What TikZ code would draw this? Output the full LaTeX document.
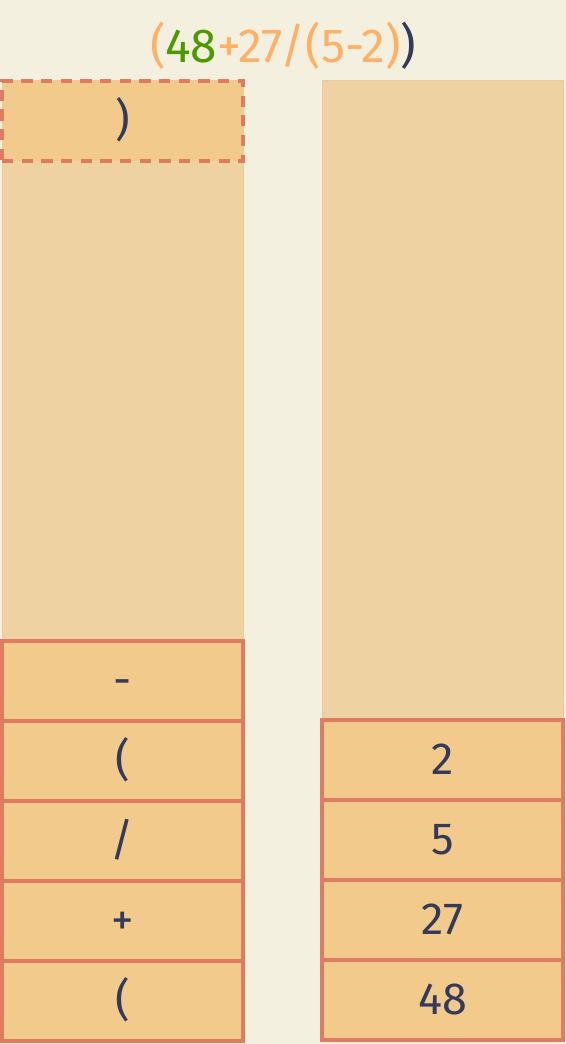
\documentclass[tikz,border=0pt]{standalone}
\usepackage{fontspec}
\usepackage{xcolor}
\usetikzlibrary{positioning}
\setmainfont{Fira Sans}

\definecolor{paper}{HTML}{F4F0DF}
\definecolor{slot}{HTML}{EED2A2}
\definecolor{slotline}{HTML}{F0C8A0}
\definecolor{cellfill}{HTML}{F2CA8C}
\definecolor{cellline}{HTML}{E07B5F}
\definecolor{ink}{HTML}{343A5A}
\definecolor{todo}{HTML}{FFB066}
\definecolor{done}{HTML}{4C9A00}

\begin{document}
\begin{tikzpicture}[node distance=2cm, auto]
    \tikzstyle{column} = [rectangle, draw=slotline, fill=slot, line width=0.6pt, minimum width=6.025cm, minimum height=24.025cm, inner sep=0pt]
    \tikzstyle{cell} = [rectangle, draw=cellline, fill=cellfill, line width=2.8pt, minimum width=6.025cm, minimum height=2cm, inner sep=0pt, text height=0.75cm, text depth=0cm, text=ink, font=\fontsize{32}{34}\selectfont]
    \tikzstyle{incoming} = [cell, dashed, dash pattern=on 8pt off 6pt]

    % background and the two stacks
    \fill[paper] (0,0) rectangle (14.15,26.1);
    \useasboundingbox (0,0) rectangle (14.15,26.1);

    \node[column] (opcol) at (3.0625,12.0875) {};
    \node[column] (numcol) at (11.0625,12.0875) {};

    % expression being read
    \node[font=\fontsize{34}{36}\selectfont] (expr) at (7.075,24.95)
        {\textcolor{todo}{(}\textcolor{done}{48}\textcolor{todo}{+27/(5-2)}\textcolor{ink}{)}};

    % operator stack
    \node[cell] (op1) at (3.0625,1.075) {(};
    \node[cell, above of=op1] (op2) {+};
    \node[cell, above of=op2] (op3) {/};
    \node[cell, above of=op3] (op4) {(};
    \node[cell, above of=op4] (op5) {-};

    % number stack
    \node[cell] (num1) at (11.0625,1.1) {48};
    \node[cell, above of=num1] (num2) {27};
    \node[cell, above of=num2] (num3) {5};
    \node[cell, above of=num3] (num4) {2};

    % token about to be pushed
    \node[incoming] (next) at (3.0625,23.075) {)};

\end{tikzpicture}
\end{document}
